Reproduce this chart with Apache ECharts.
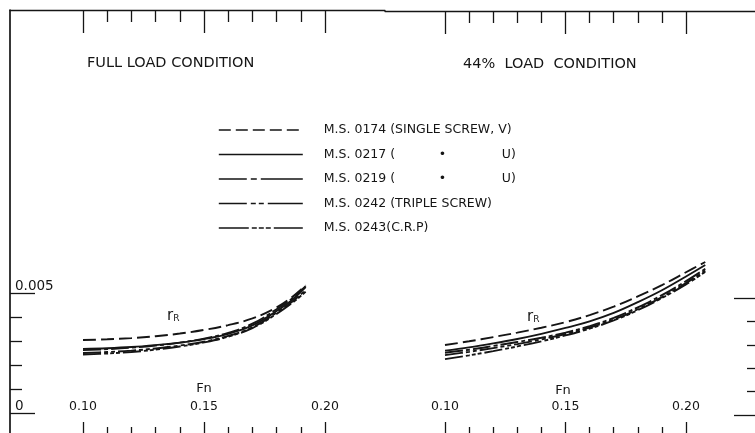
<!DOCTYPE html>
<html>
<head>
<meta charset="utf-8">
<script src="https://cdn.jsdelivr.net/npm/echarts@6/dist/echarts.min.js"></script>
<style>
  html, body { margin: 0; padding: 0; background: #fff; }
  #chart { width: 755px; height: 433px; }
</style>
</head>
<body>
<div id="chart"></div>
<script>
// Residuary resistance coefficient rR against Froude number Fn,
// full load and 44% load, for five ship models.

const modelNames = [
  'M.S. 0174 (SINGLE SCREW, V)',
  'M.S. 0217 (           \u2022              U)',
  'M.S. 0219 (           \u2022              U)',
  'M.S. 0242 (TRIPLE SCREW)',
  'M.S. 0243(C.R.P)'
];

// Full load condition
const fnFull   = [0.100, 0.110, 0.120, 0.130, 0.140, 0.150, 0.160, 0.170, 0.180, 0.186, 0.192];
const full0174 = [0.00304, 0.00307, 0.00312, 0.00320, 0.00331, 0.00346, 0.00366, 0.00394, 0.00440, 0.00480, 0.00532];
const full0217 = [0.00267, 0.00270, 0.00275, 0.00283, 0.00293, 0.00308, 0.00330, 0.00365, 0.00425, 0.00468, 0.00525];
const full0219 = [0.00262, 0.00266, 0.00272, 0.00281, 0.00293, 0.00310, 0.00334, 0.00372, 0.00432, 0.00474, 0.00528];
const full0242 = [0.00250, 0.00254, 0.00260, 0.00269, 0.00281, 0.00297, 0.00321, 0.00357, 0.00418, 0.00460, 0.00512];
const full0243 = [0.00244, 0.00248, 0.00254, 0.00264, 0.00277, 0.00294, 0.00318, 0.00354, 0.00413, 0.00455, 0.00505];

// 44% load condition
const fnPart   = [0.100, 0.110, 0.120, 0.130, 0.140, 0.150, 0.160, 0.170, 0.180, 0.190, 0.200, 0.208];
const part0174 = [0.00299, 0.00315, 0.00333, 0.00352, 0.00373, 0.00397, 0.00427, 0.00463, 0.00507, 0.00555, 0.00610, 0.00654];
const part0217 = [0.00275, 0.00289, 0.00306, 0.00325, 0.00347, 0.00372, 0.00400, 0.00436, 0.00482, 0.00533, 0.00592, 0.00641];
const part0219 = [0.00266, 0.00279, 0.00295, 0.00312, 0.00330, 0.00352, 0.00380, 0.00415, 0.00460, 0.00512, 0.00572, 0.00625];
const part0242 = [0.00256, 0.00270, 0.00286, 0.00303, 0.00323, 0.00346, 0.00374, 0.00408, 0.00452, 0.00504, 0.00564, 0.00617];
const part0243 = [0.00239, 0.00255, 0.00273, 0.00293, 0.00315, 0.00340, 0.00369, 0.00404, 0.00448, 0.00500, 0.00558, 0.00612];

// Axis ticks
const fnMajor = [0.10, 0.15, 0.20];
const fnMinor = [0.11, 0.12, 0.13, 0.14, 0.16, 0.17, 0.18, 0.19];
const rMajor  = [0, 0.005];
const rMinor  = [0.001, 0.002, 0.003, 0.004];

const INK = '#151515';
const FONT = 'DejaVu Sans';

// dash patterns per model: plotted curve / legend sample
const curveDash  = [[13, 5], 'solid', [18, 3, 4, 3], [18, 3, 4, 3, 4, 3], [18, 3, 4, 2, 4, 2, 4, 3]];
const legendDash = [[12, 5], 'solid', [28, 4, 6, 4, 50, 10], [28, 4, 5, 3, 5, 4, 40, 10], [30, 3, 5, 2, 5, 2, 5, 3, 40, 10]];

// panel geometry: pixel anchors of Fn 0.10 / 0.20 and rR 0 / 0.005
function panelLayout(left, width, top, height, x010, x020, y0, y005) {
  const pxX = (x020 - x010) / 0.10;
  const pxY = (y0 - y005) / 0.005;
  const xMin = 0.10 - (x010 - left) / pxX;
  const yMax = (y0 - top) / pxY;
  return {
    grid: { left: left, top: top, width: width, height: height },
    xMin: xMin, xMax: xMin + width / pxX,
    yMin: yMax - height / pxY, yMax: yMax
  };
}
const P1 = panelLayout(10, 375, 10, 423, 83, 325, 413, 293);
const P2 = panelLayout(385, 370, 11, 422, 445, 686, 415, 298);

function xAxisDef(grid, P, pos, ticks, len, lineOn, labels) {
  return {
    type: 'value', gridIndex: grid, position: pos, min: P.xMin, max: P.xMax,
    axisLine: { show: lineOn, onZero: false, lineStyle: { color: INK, width: 1.3 } },
    axisTick: { show: true, inside: true, length: len, customValues: ticks,
                lineStyle: { color: INK, width: 1.3 } },
    axisLabel: labels ? {
      show: true, inside: true, margin: 20, customValues: fnMajor,
      formatter: v => v.toFixed(2), color: INK, fontFamily: FONT, fontSize: 12.5
    } : { show: false },
    splitLine: { show: false }
  };
}
function yAxisDef(grid, P, pos, ticks, len, lineOn, labels) {
  return {
    type: 'value', gridIndex: grid, position: pos, min: P.yMin, max: P.yMax,
    axisLine: { show: lineOn, onZero: false, lineStyle: { color: INK, width: 1.7 } },
    axisTick: { show: true, inside: true, length: len, customValues: ticks,
                lineStyle: { color: INK, width: 1.3 } },
    axisLabel: labels ? {
      show: true, inside: true, margin: 5, customValues: rMajor, verticalAlign: 'bottom',
      formatter: v => (v === 0 ? '0' : v.toFixed(3)),
      color: INK, fontFamily: FONT, fontSize: 13.5
    } : { show: false },
    splitLine: { show: false }
  };
}

const grids = [P1.grid, P1.grid, P2.grid, P2.grid];
const xAxes = [
  xAxisDef(0, P1, 'bottom', fnMajor, 11, false, true),
  xAxisDef(0, P1, 'top', fnMajor, 23, true, false),
  xAxisDef(1, P1, 'bottom', fnMinor, 6, false, false),
  xAxisDef(1, P1, 'top', fnMinor, 12, false, false),
  xAxisDef(2, P2, 'bottom', fnMajor, 11, false, true),
  xAxisDef(2, P2, 'top', fnMajor, 23, true, false),
  xAxisDef(3, P2, 'bottom', fnMinor, 6, false, false),
  xAxisDef(3, P2, 'top', fnMinor, 12, false, false)
];
const yAxes = [
  yAxisDef(0, P1, 'left', rMajor, 25, true, true),
  yAxisDef(1, P1, 'left', rMinor, 12, false, false),
  yAxisDef(2, P2, 'right', rMajor, 21, false, false),
  yAxisDef(3, P2, 'right', rMinor, 8, false, false)
];

function curves(fn, sets, xi, yi) {
  return sets.map((vals, i) => ({
    type: 'line', name: modelNames[i], xAxisIndex: xi, yAxisIndex: yi,
    data: fn.map((f, k) => [f, vals[k]]),
    smooth: 0.4, symbol: 'none', silent: true,
    lineStyle: { color: INK, width: 1.9, type: curveDash[i] }
  }));
}

const series = [].concat(
  curves(fnFull, [full0174, full0217, full0219, full0242, full0243], 0, 0),
  curves(fnPart, [part0174, part0217, part0219, part0242, part0243], 4, 2)
);

const textStyle = (size) => ({ fontFamily: FONT, fontSize: size, fill: INK });

const option = {
  animation: false,
  backgroundColor: '#ffffff',
  grid: grids,
  xAxis: xAxes,
  yAxis: yAxes,
  legend: {
    orient: 'vertical', left: 218, top: 123, padding: 0,
    itemWidth: 84, itemHeight: 14, itemGap: 10.5,
    selectedMode: false,
    data: modelNames.map((n, i) => ({ name: n, lineStyle: { type: legendDash[i] } })),
    itemStyle: { opacity: 0 },
    lineStyle: { width: 1.6, color: INK },
    textStyle: { fontFamily: FONT, fontSize: 12.5, color: INK, lineHeight: 14, padding: [0, 0, 0, 16] }
  },
  graphic: [
    { type: 'text', x: 87, y: 63, style: Object.assign({ text: 'FULL LOAD CONDITION', verticalAlign: 'middle' }, textStyle(14.5)) },
    { type: 'text', x: 463, y: 64, style: Object.assign({ text: '44%  LOAD  CONDITION', verticalAlign: 'middle' }, textStyle(14.5)) },
    { type: 'text', x: 204, y: 389, style: Object.assign({ text: 'Fn', align: 'center', verticalAlign: 'middle' }, textStyle(13)) },
    { type: 'text', x: 563, y: 391, style: Object.assign({ text: 'Fn', align: 'center', verticalAlign: 'middle' }, textStyle(13)) },
    { type: 'text', x: 167, y: 316, style: { text: '{r|r}{s|R}', verticalAlign: 'middle',
        rich: { r: { fontFamily: FONT, fontSize: 15, fill: INK }, s: { fontFamily: FONT, fontSize: 9, fill: INK, verticalAlign: 'bottom' } } } },
    { type: 'text', x: 527, y: 317, style: { text: '{r|r}{s|R}', verticalAlign: 'middle',
        rich: { r: { fontFamily: FONT, fontSize: 15, fill: INK }, s: { fontFamily: FONT, fontSize: 9, fill: INK, verticalAlign: 'bottom' } } } }
  ],
  series: series
};

const chart = echarts.init(document.getElementById('chart'), null, { renderer: 'canvas' });
chart.setOption(option);
</script>
</body>
</html>
